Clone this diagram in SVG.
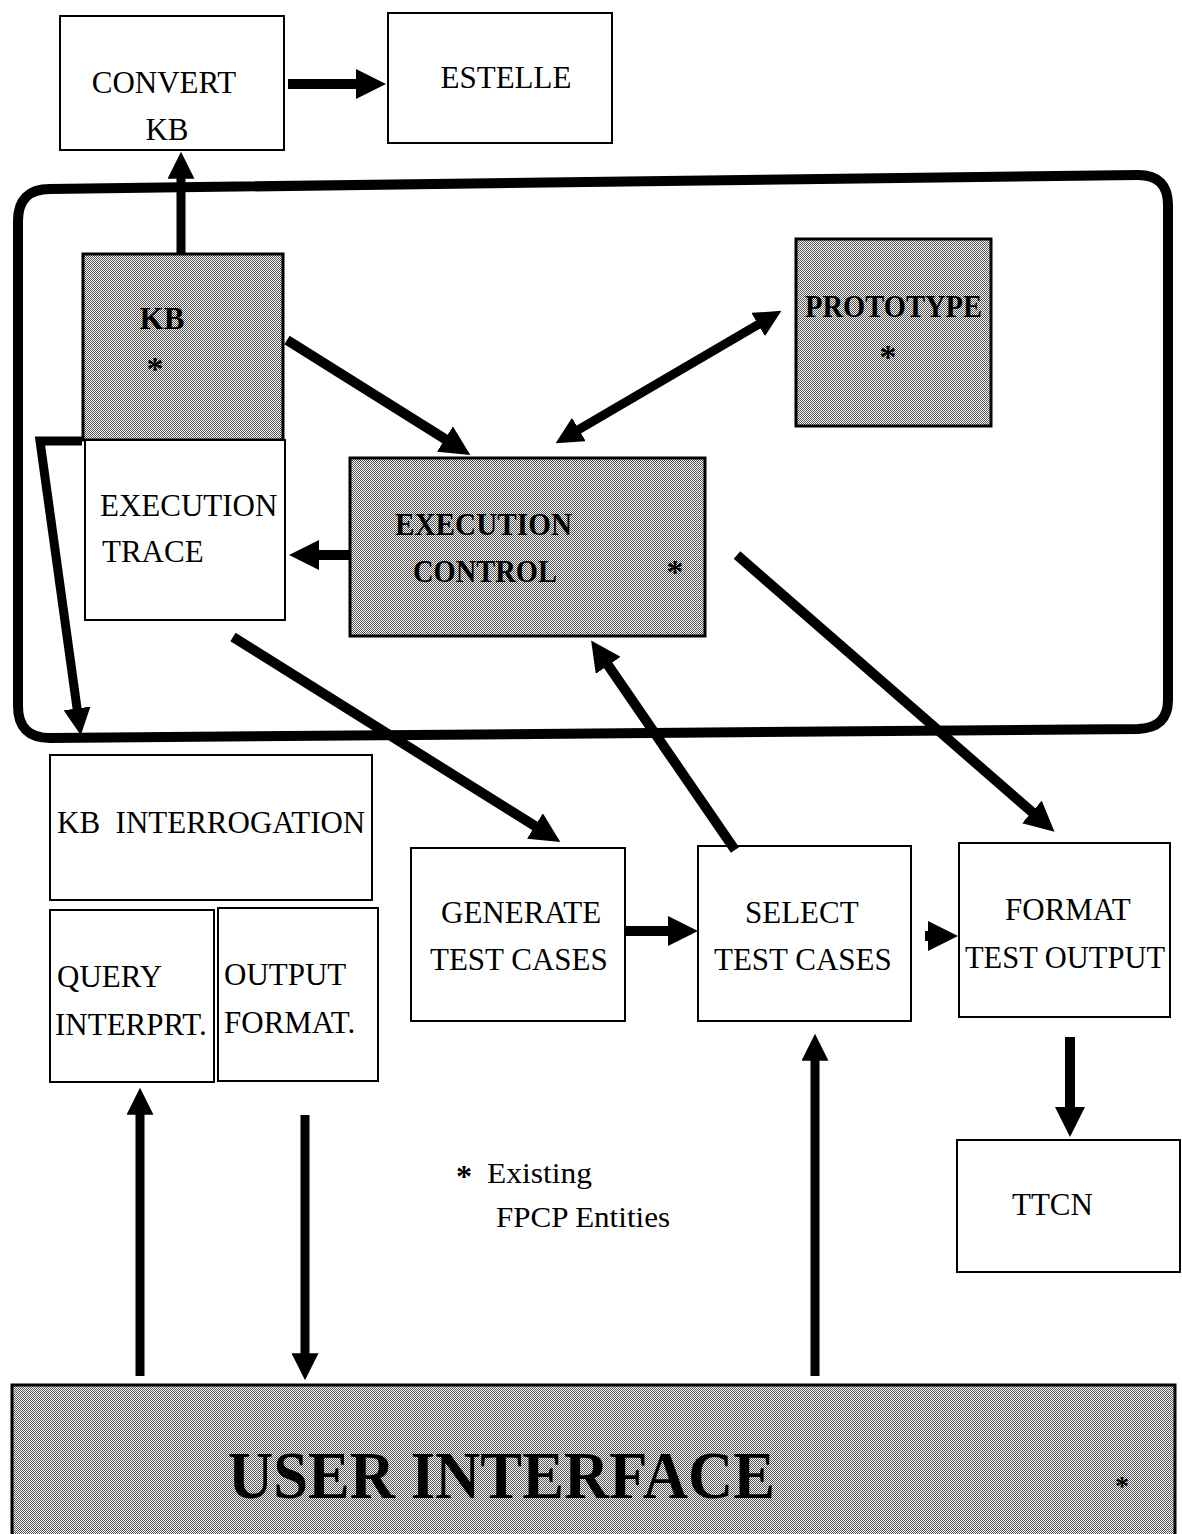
<svg xmlns="http://www.w3.org/2000/svg" width="1182" height="1534" viewBox="0 0 1182 1534">
  <defs>
    <!-- fine halftone used for the existing entities -->
    <pattern id="halftone" width="2" height="2" patternUnits="userSpaceOnUse">
      <rect width="2" height="2" fill="#fafafa"/>
      <rect x="0" y="0" width="1" height="1" fill="#555"/>
      <rect x="1" y="1" width="1" height="1" fill="#555"/>
    </pattern>
    <!-- solid arrowhead, sized from the stroke width (3 x stroke) -->
    <marker id="head" viewBox="0 0 3 3" refX="0.2" refY="1.5" markerWidth="3" markerHeight="3" orient="auto-start-reverse">
      <path d="M0,0 L3,1.5 L0,3 Z" fill="#000"/>
    </marker>
    <style>
      .box { fill: #fff; stroke: #000; stroke-width: 2; }
      .shaded { fill: url(#halftone); stroke: #000; stroke-width: 3; }
      .lbl { font-family: "Liberation Serif", "Times New Roman", serif; font-size: 31px; fill: #000; }
      .bold { font-weight: bold; }
      .mid { text-anchor: middle; }
      .star { font-family: "Liberation Serif", "Times New Roman", serif; font-size: 34px; font-weight: bold; fill: #000; text-anchor: middle; }
      .wire { fill: none; stroke: #000; stroke-linecap: butt; stroke-linejoin: miter; }
      .arrow { marker-end: url(#head); }
    </style>
  </defs>

  <rect width="1182" height="1534" fill="#fff"/>

  <!-- rounded frame around the core entities -->
  <path id="core-frame" d="M 50,189 L 1138,175 Q 1168,175 1168,205 L 1168,700 Q 1168,728 1138,729 L 50,738 Q 18,738 18,706 L 18,221 Q 18,189 50,189 Z" fill="none" stroke="#000" stroke-width="10"/>

  <g id="node-convert-kb">
    <rect class="box" x="60" y="16" width="224" height="134"/>
    <text class="lbl mid" x="164" y="93">CONVERT</text>
    <text class="lbl mid" x="167" y="140">KB</text>
  </g>

  <g id="node-estelle">
    <rect class="box" x="388" y="13" width="224" height="130"/>
    <text class="lbl mid" x="506" y="88">ESTELLE</text>
  </g>

  <g id="node-kb">
    <rect class="shaded" x="83" y="254" width="200" height="186"/>
    <text class="lbl bold mid" x="162" y="329">KB</text>
    <text class="star" x="155" y="380">*</text>
  </g>

  <g id="node-execution-trace">
    <rect class="box" x="85" y="440" width="200" height="180" stroke-width="3"/>
    <text class="lbl" x="100" y="516">EXECUTION</text>
    <text class="lbl" x="102" y="562">TRACE</text>
  </g>

  <g id="node-prototype">
    <rect class="shaded" x="796" y="239" width="195" height="187"/>
    <text class="lbl bold" x="805" y="317" textLength="177" lengthAdjust="spacingAndGlyphs">PROTOTYPE</text>
    <text class="star" x="888" y="368">*</text>
  </g>

  <g id="node-execution-control">
    <rect class="shaded" x="350" y="458" width="355" height="178"/>
    <text class="lbl bold" x="395" y="535" textLength="177" lengthAdjust="spacingAndGlyphs">EXECUTION</text>
    <text class="lbl bold" x="413" y="582" textLength="144" lengthAdjust="spacingAndGlyphs">CONTROL</text>
    <text class="star" x="675" y="583">*</text>
  </g>

  <g id="node-kb-interrogation">
    <rect class="box" x="50" y="755" width="322" height="145"/>
    <text class="lbl" x="57" y="833" xml:space="preserve">KB  INTERROGATION</text>
  </g>

  <g id="node-query-interprt">
    <rect class="box" x="50" y="910" width="164" height="172"/>
    <text class="lbl" x="57" y="987">QUERY</text>
    <text class="lbl" x="55" y="1035">INTERPRT.</text>
  </g>

  <g id="node-output-format">
    <rect class="box" x="218" y="908" width="160" height="173"/>
    <text class="lbl" x="224" y="985">OUTPUT</text>
    <text class="lbl" x="224" y="1033">FORMAT.</text>
  </g>

  <g id="node-generate-test-cases">
    <rect class="box" x="411" y="848" width="214" height="173"/>
    <text class="lbl" x="441" y="923">GENERATE</text>
    <text class="lbl" x="430" y="970">TEST CASES</text>
  </g>

  <g id="node-select-test-cases">
    <rect class="box" x="698" y="846" width="213" height="175"/>
    <text class="lbl" x="745" y="923">SELECT</text>
    <text class="lbl" x="714" y="970">TEST CASES</text>
  </g>

  <g id="node-format-test-output">
    <rect class="box" x="959" y="843" width="211" height="174"/>
    <text class="lbl" x="1005" y="920">FORMAT</text>
    <text class="lbl" x="965" y="968" textLength="200" lengthAdjust="spacingAndGlyphs">TEST OUTPUT</text>
  </g>

  <g id="node-ttcn">
    <rect class="box" x="957" y="1140" width="223" height="132"/>
    <text class="lbl" x="1012" y="1215">TTCN</text>
  </g>

  <g id="node-user-interface">
    <rect class="shaded" x="12" y="1385" width="1163" height="160"/>
    <text class="lbl bold" x="228" y="1498" style="font-size:68px" textLength="547" lengthAdjust="spacingAndGlyphs">USER INTERFACE</text>
    <text class="star" x="1122" y="1495" style="font-size:28px">*</text>
  </g>

  <g id="legend">
    <text class="star" x="464" y="1187" style="font-size:32px">*</text>
    <text class="lbl" x="487" y="1183" style="font-size:30px" textLength="105" lengthAdjust="spacingAndGlyphs">Existing</text>
    <text class="lbl" x="496" y="1227" style="font-size:30px" textLength="174" lengthAdjust="spacingAndGlyphs">FPCP Entities</text>
  </g>

  <g id="connectors">
    <!-- KB up to CONVERT KB -->
    <line class="wire arrow" x1="181" y1="255" x2="181" y2="177" stroke-width="9"/>
    <!-- CONVERT KB to ESTELLE -->
    <line class="wire arrow" x1="288" y1="84" x2="358" y2="84" stroke-width="10"/>
    <!-- KB to EXECUTION CONTROL -->
    <line class="wire arrow" x1="287" y1="340" x2="446.6" y2="440.1" stroke-width="10"/>
    <!-- EXECUTION CONTROL <-> PROTOTYPE -->
    <line class="wire" x1="577.3" y1="430.4" x2="759.7" y2="323.6" stroke-width="9" marker-start="url(#head)" marker-end="url(#head)"/>
    <!-- EXECUTION CONTROL to EXECUTION TRACE -->
    <line class="wire arrow" x1="350" y1="555" x2="317" y2="555" stroke-width="10"/>
    <!-- EXECUTION TRACE to GENERATE TEST CASES -->
    <line class="wire arrow" x1="233" y1="637" x2="536.6" y2="827.1" stroke-width="10"/>
    <!-- SELECT TEST CASES back to EXECUTION CONTROL -->
    <line class="wire arrow" x1="735" y1="850" x2="607" y2="663.7" stroke-width="10"/>
    <!-- EXECUTION CONTROL to FORMAT TEST OUTPUT -->
    <line class="wire arrow" x1="737" y1="555" x2="1033.4" y2="813.3" stroke-width="10"/>
    <!-- GENERATE to SELECT -->
    <line class="wire arrow" x1="625" y1="931" x2="670" y2="931" stroke-width="10"/>
    <!-- SELECT to FORMAT -->
    <line class="wire arrow" x1="925" y1="936" x2="930" y2="936" stroke-width="10"/>
    <!-- FORMAT to TTCN -->
    <line class="wire arrow" x1="1070" y1="1037" x2="1070" y2="1109" stroke-width="10"/>
    <!-- KB down to KB INTERROGATION -->
    <polyline class="wire arrow" points="82,441 40,441 77.3,710.2" stroke-width="9"/>
    <!-- USER INTERFACE up to QUERY INTERPRT. -->
    <line class="wire arrow" x1="140" y1="1376" x2="140" y2="1113" stroke-width="9"/>
    <!-- OUTPUT FORMAT. down to USER INTERFACE -->
    <line class="wire arrow" x1="305" y1="1115" x2="305" y2="1355" stroke-width="9"/>
    <!-- USER INTERFACE up to SELECT TEST CASES -->
    <line class="wire arrow" x1="815" y1="1376" x2="815" y2="1059" stroke-width="9"/>
  </g>
</svg>
